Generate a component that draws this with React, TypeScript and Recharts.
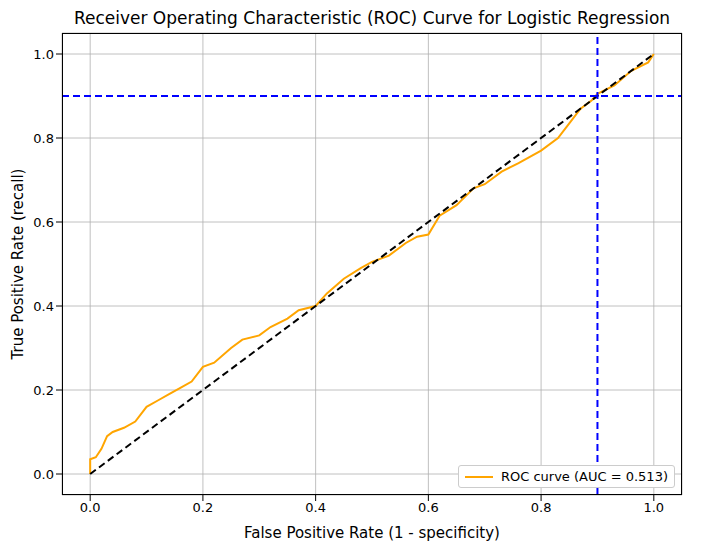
import React from 'react';
import { LineChart, Line, XAxis, YAxis, CartesianGrid, ReferenceLine, Label } from 'recharts';

const rocFpr = [0, 0, 0.01, 0.02, 0.03, 0.04, 0.06, 0.08, 0.1, 0.12, 0.14, 0.16, 0.18, 0.2, 0.22, 0.25, 0.27, 0.3, 0.32, 0.35, 0.37, 0.4, 0.42, 0.45, 0.48, 0.5, 0.53, 0.56, 0.58, 0.6, 0.62, 0.65, 0.68, 0.7, 0.73, 0.76, 0.8, 0.83, 0.85, 0.87, 0.89, 0.9, 0.93, 0.96, 0.99, 1];
const rocTpr = [0, 0.035, 0.04, 0.06, 0.09, 0.1, 0.11, 0.125, 0.16, 0.175, 0.19, 0.205, 0.22, 0.255, 0.265, 0.3, 0.32, 0.33, 0.35, 0.37, 0.39, 0.4, 0.43, 0.465, 0.49, 0.505, 0.52, 0.55, 0.565, 0.57, 0.615, 0.64, 0.68, 0.69, 0.72, 0.74, 0.77, 0.8, 0.835, 0.87, 0.89, 0.905, 0.925, 0.96, 0.98, 1];
const diagonal = [{ x: 0, y: 0 }, { x: 1, y: 1 }];
const ticks = [0, 0.2, 0.4, 0.6, 0.8, 1];
const thresholdFpr = 0.9;
const thresholdTpr = 0.9;

const rocData = rocFpr.map((x, i) => ({ x, y: rocTpr[i] }));
const fmt = (v: number) => v.toFixed(1);

export default function App() {
    return (
        <div style={{ position: 'absolute', left: 0, top: 0, width: 724, height: 549, background: '#fff', fontFamily: 'DejaVu Sans' }}>
            <div style={{ position: 'absolute', left: 0, width: 744, top: 8, textAlign: 'center', fontSize: 17 }}>
                Receiver Operating Characteristic (ROC) Curve for Logistic Regression
            </div>
            <div style={{ position: 'absolute', left: 18, top: 264, transform: 'translate(-50%, -50%) rotate(-90deg)', whiteSpace: 'nowrap', fontSize: 15 }}>
                True Positive Rate (recall)
            </div>
            <LineChart width={724} height={549} margin={{ top: 33, right: 42, bottom: 24, left: 12 }}>
                <CartesianGrid stroke="#b0b0b0" strokeWidth={0.8} />
                <XAxis type="number" dataKey="x" domain={[-0.05, 1.05]} ticks={ticks} tickFormatter={fmt}
                    tick={{ fill: '#000', fontSize: 13 }} tickLine={{ stroke: '#000' }} axisLine={false} height={30} allowDuplicatedCategory={false}>
                    <Label value="False Positive Rate (1 - specificity)" position="bottom" offset={2} style={{ fill: '#000', fontSize: 15 }} />
                </XAxis>
                <YAxis type="number" dataKey="y" domain={[-0.05, 1.05]} ticks={ticks} tickFormatter={fmt}
                    tick={{ fill: '#000', fontSize: 13 }} tickLine={{ stroke: '#000' }} axisLine={false} width={50} />
                <Line data={rocData} dataKey="y" type="linear" stroke="orange" strokeWidth={2} dot={false} isAnimationActive={false} />
                <Line data={diagonal} dataKey="y" type="linear" stroke="#000" strokeWidth={2} strokeDasharray="7 4" dot={false} isAnimationActive={false} />
                <ReferenceLine x={thresholdFpr} stroke="blue" strokeWidth={2} strokeDasharray="7 4" />
                <ReferenceLine y={thresholdTpr} stroke="blue" strokeWidth={2} strokeDasharray="7 4" />
            </LineChart>
            <div style={{ position: 'absolute', left: 62, top: 33, width: 620, height: 462, border: '1px solid #000', boxSizing: 'border-box', pointerEvents: 'none' }} />
            <div style={{ position: 'absolute', right: 49, bottom: 61, background: '#fff', border: '1px solid #ccc', borderRadius: 3, padding: '3px 6px', fontSize: 13, display: 'flex', alignItems: 'center', gap: 8 }}>
                <span style={{ display: 'inline-block', width: 28, height: 2, background: 'orange' }} />
                <span>ROC curve (AUC = 0.513)</span>
            </div>
        </div>
    );
}
